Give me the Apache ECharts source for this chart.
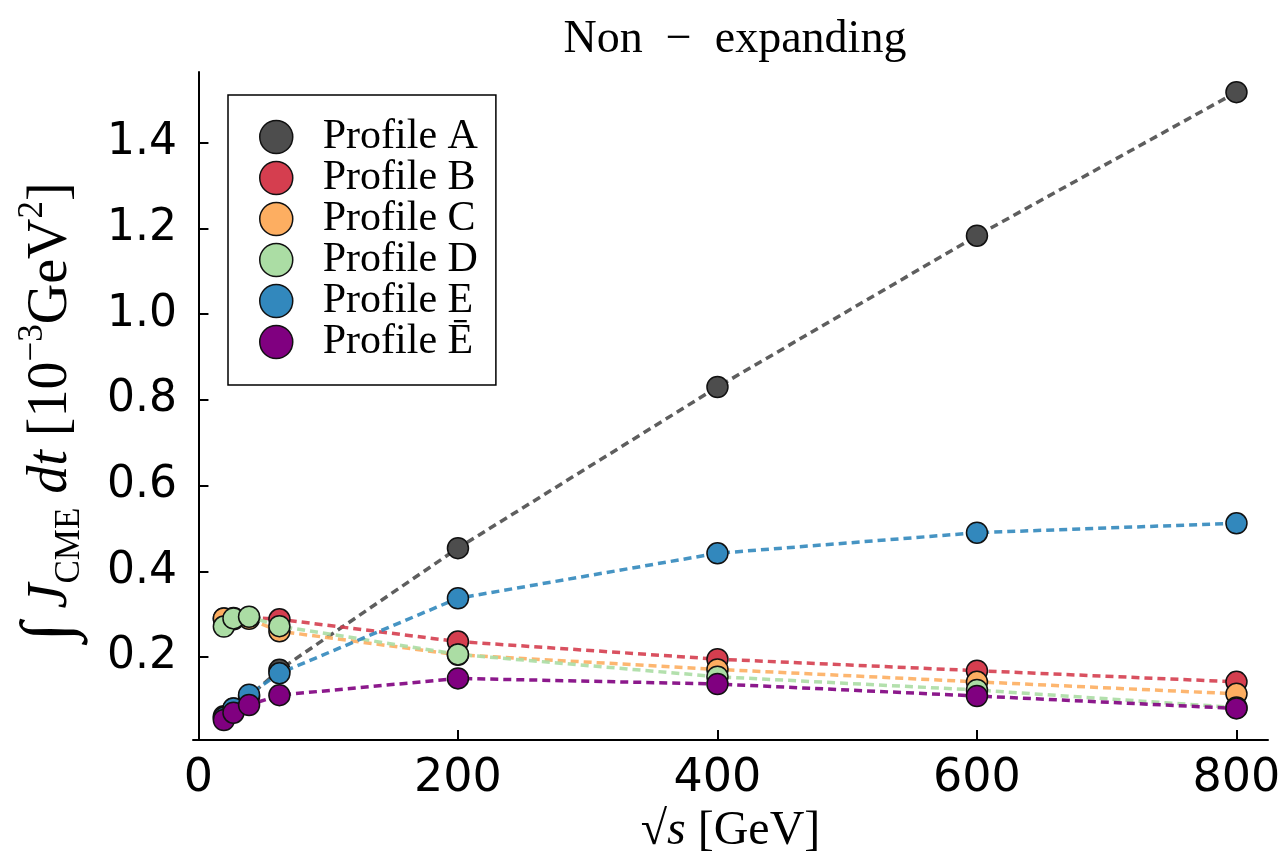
<!DOCTYPE html>
<html>
<head>
<meta charset="utf-8">
<script src="https://cdn.jsdelivr.net/npm/echarts@6/dist/echarts.min.js"></script>
<style>
html,body{margin:0;padding:0;background:#fff;}
#chart{width:1286px;height:852px;}
</style>
</head>
<body>
<div id="chart"></div>
<script>
const energies = [19.6, 27, 39, 62.4, 200, 400, 600, 800];
const profileA = [0.062, 0.080, 0.108, 0.170, 0.454, 0.830, 1.183, 1.518];
const profileB = [0.290, 0.291, 0.292, 0.288, 0.236, 0.195, 0.168, 0.142];
const profileC = [0.290, 0.288, 0.289, 0.260, 0.205, 0.171, 0.142, 0.114];
const profileD = [0.271, 0.290, 0.294, 0.272, 0.206, 0.154, 0.123, 0.082];
const profileE = [0.058, 0.080, 0.112, 0.162, 0.337, 0.442, 0.490, 0.512];
const profileEbar = [0.053, 0.070, 0.088, 0.111, 0.150, 0.137, 0.109, 0.080];
const seriesNames = ['Profile A', 'Profile B', 'Profile C', 'Profile D', 'Profile E', 'Profile \u0112'];
const seriesValues = [profileA, profileB, profileC, profileD, profileE, profileEbar];
const colors = ['#4d4d4d', '#d53e4f', '#fdae61', '#abdda4', '#3288bd', '#800080'];
const xTicks = [0, 200, 400, 600, 800];
const yTicks = [0.2, 0.4, 0.6, 0.8, 1.0, 1.2, 1.4];

const serif = '"Liberation Serif", "DejaVu Serif", serif';
const sans = '"DejaVu Sans", sans-serif';

const chart = echarts.init(document.getElementById('chart'), null, {renderer: 'canvas'});

const series = seriesNames.map((name, i) => ({
  name: name,
  type: 'line',
  data: energies.map((x, j) => [x, seriesValues[i][j]]),
  symbol: 'circle',
  symbolSize: 21,
  showAllSymbol: true,
  itemStyle: {color: colors[i], borderColor: '#111', borderWidth: 1.5},
  lineStyle: {color: colors[i], width: 3.5, type: [8, 5], opacity: 0.9},
  emphasis: {disabled: true},
  animation: false,
  z: 2 + i
}));

chart.setOption({
  backgroundColor: '#ffffff',
  animation: false,
  title: {
    text: 'Non  \u2212  expanding',
    left: 730,
    textAlign: 'center',
    top: 12,
    textStyle: {fontFamily: serif, fontSize: 46, fontWeight: 'normal', color: '#000'}
  },
  grid: {left: 193, right: 18, top: 72, bottom: 112, containLabel: false, outerBoundsMode: 'none'},
  legend: {
    orient: 'vertical',
    left: 228,
    top: 95,
    padding: [21, 18, 22, 31],
    itemWidth: 33,
    itemHeight: 33,
    itemGap: -1,
    borderColor: '#000',
    borderWidth: 1.5,
    backgroundColor: '#fff',
    icon: 'circle',
    itemStyle: {borderColor: '#111', borderWidth: 1.5},
    textStyle: {fontFamily: serif, fontSize: 42, color: '#000', padding: [0, 0, 0, 25]},
    data: seriesNames
  },
  xAxis: {
    type: 'value',
    min: -4.2,
    max: 824.3,
    name: '{sq|\u221A}{it|s}{rm| [GeV]}',
    nameLocation: 'middle',
    nameGap: 62,
    nameTextStyle: {
      rich: {
        sq: {fontFamily: serif, fontSize: 48, color: '#000'},
        it: {fontFamily: serif, fontSize: 48, fontStyle: 'italic', color: '#000'},
        rm: {fontFamily: serif, fontSize: 48, color: '#000'}
      }
    },
    axisLine: {show: true, lineStyle: {color: '#000', width: 2}},
    axisTick: {show: true, inside: true, length: 10, customValues: xTicks, lineStyle: {color: '#000', width: 2}},
    axisLabel: {customValues: xTicks, fontFamily: sans, fontSize: 46, color: '#000', margin: 16},
    splitLine: {show: false}
  },
  yAxis: {
    type: 'value',
    min: 0.0063,
    max: 1.565,
    name: '{int|\u222B}{it| J}{sub|CME}{it| dt }{rm|[10}{sup|\u22123}{rm|GeV}{sup|2}{rm|]}',
    nameLocation: 'middle',
    nameRotate: 90,
    nameGap: 106,
    nameTextStyle: {
      padding: [0, 12, 0, 0],
      rich: {
        int: {fontFamily: serif, fontSize: 70, color: '#000', lineHeight: 72},
        it: {fontFamily: serif, fontSize: 56, fontStyle: 'italic', color: '#000', lineHeight: 72},
        rm: {fontFamily: serif, fontSize: 56, color: '#000', lineHeight: 72},
        sub: {fontFamily: serif, fontSize: 35, color: '#000', verticalAlign: 'bottom', lineHeight: 72},
        sup: {fontFamily: serif, fontSize: 35, color: '#000', verticalAlign: 'top', lineHeight: 72}
      }
    },
    axisLine: {show: true, lineStyle: {color: '#000', width: 2}},
    axisTick: {show: true, inside: true, length: 10, customValues: yTicks, lineStyle: {color: '#000', width: 2}},
    axisLabel: {customValues: yTicks, fontFamily: sans, fontSize: 44, color: '#000', margin: 16,
      formatter: v => v.toFixed(1)},
    splitLine: {show: false}
  },
  series: series
});
</script>
</body>
</html>
